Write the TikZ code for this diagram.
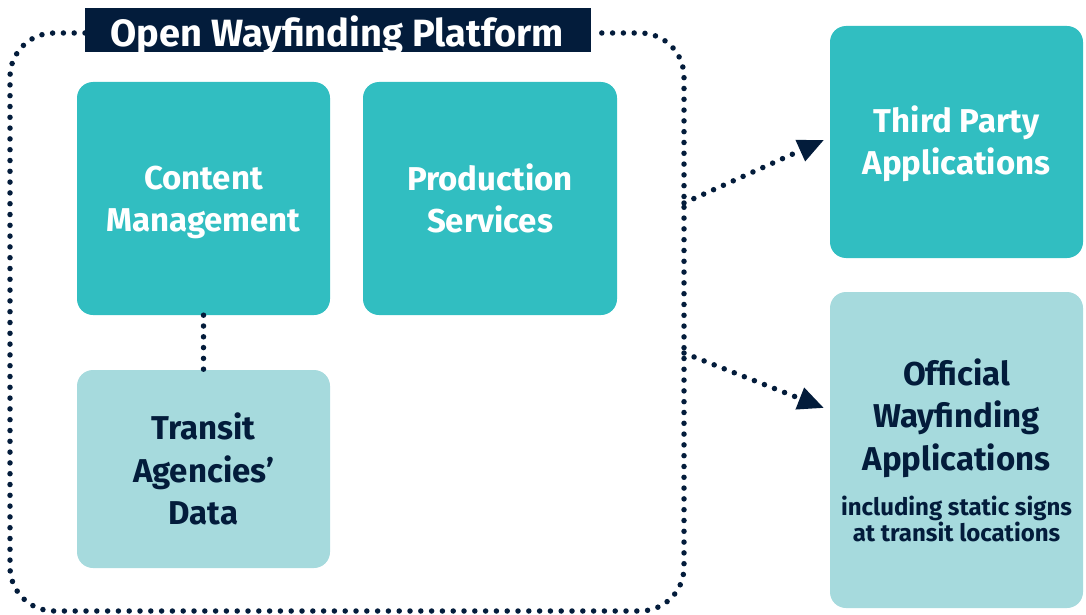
\documentclass[tikz,border=0pt]{standalone}
\usepackage{fontspec}
\setmainfont{Fira Sans}[UprightFont=* SemiBold, BoldFont=* Bold]
\usetikzlibrary{arrows.meta}
\definecolor{navy}{HTML}{031C3B}
\definecolor{teal}{HTML}{31BEC1}
\definecolor{lteal}{HTML}{A6DADD}
\tikzset{
  dots/.style={navy, line width=5.5pt, line cap=round, dash pattern=on 0pt off 10.8pt},
  bigbox/.style={rounded corners=16pt, inner sep=0pt, align=center},
  dark/.style={bigbox, fill=teal, text=white},
  light/.style={bigbox, fill=lteal, text=navy},
  lbl/.style={font=\fontsize{33}{42.5}\selectfont\bfseries, align=center},
}
\begin{document}
\begin{tikzpicture}[x=1pt,y=-1pt]
\useasboundingbox (0,0) rectangle (1086,615);
% outer dotted frame
\draw[dots, rounded corners=44pt] (85,33) -- (10,33) -- (10,611) -- (684,611) -- (684,33) -- (591,33);
\node[fill=navy, minimum width=506pt, minimum height=44pt, inner sep=0pt] (title) at (338,30) {};
\node[text=white, inner sep=0pt, font=\fontsize{38}{40}\selectfont\bfseries] at (337,35) {Open Wayfinding Platform};
% boxes
\node[dark, minimum width=253pt, minimum height=233pt] (cm) at (203.5,198.5) {};
\node[lbl, text=white] at ([yshift=-4pt]cm.center) {Content\\Management};
\node[dark, minimum width=254pt, minimum height=233pt] (ps) at (490,198.5) {};
\node[lbl, text=white] at (ps.center) {Production\\Services};
\node[light, minimum width=253pt, minimum height=198pt] (td) at (203.5,469) {};
\node[lbl, text=navy] at (td.center) {Transit\\Agencies’\\Data};
\node[dark, minimum width=253pt, minimum height=232pt] (tp) at (956.5,142) {};
\node[lbl, text=white] at ([yshift=-2pt]tp.center) {Third Party\\Applications};
\node[light, minimum width=253pt, minimum height=316pt] (ow) at (956.5,450) {};
\node[lbl, text=navy, anchor=north] (owt) at (956.5,355) {Official\\Wayfinding\\Applications};
\node[text=navy, align=center, anchor=north, inner sep=0pt, font=\fontsize{24}{24.5}\selectfont\bfseries] at (956.5,496) {including static signs\\at transit locations};
% connectors
\coordinate (a1) at (684,203);
\coordinate (a2) at (684,353);
\draw[dots] (cm.south) -- (td.north);
\draw[dots, -{Triangle[length=26pt,width=22pt]}] (a1) -- (824,140);
\draw[dots, -{Triangle[length=26pt,width=22pt]}] (a2) -- (824,408);
\end{tikzpicture}
\end{document}
